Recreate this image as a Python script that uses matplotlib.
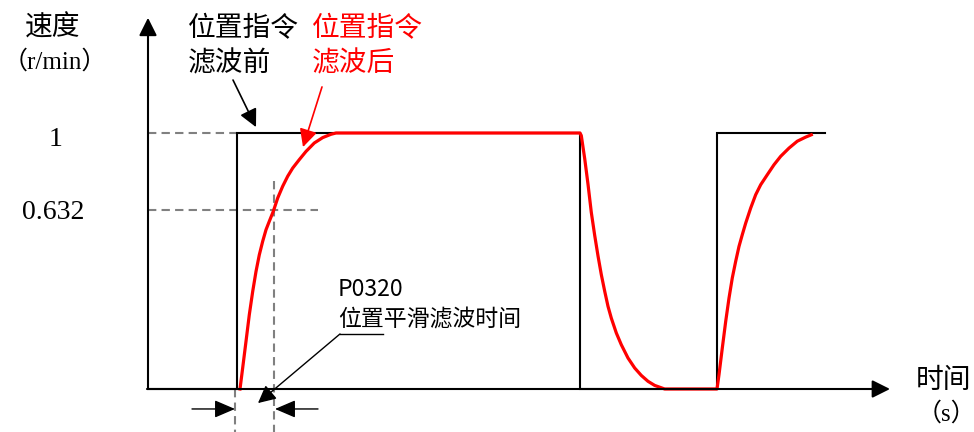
import matplotlib
matplotlib.use('Agg')
import matplotlib.pyplot as plt

plt.rcParams['font.family'] = ['Liberation Serif', 'Noto Sans CJK SC', 'DejaVu Sans']

# 指令（滤波前）：阶跃
step_t = [0, 89, 89, 432, 432, 569, 569, 677]
step_v = [0, 0, 1, 1, 0, 0, 1, 1]

# 滤波后（从图上读取的点）
rise1_t = [92, 94.7, 98, 101.3, 104.7, 108, 111.3, 114.7, 118, 121.3, 125.3, 129.7, 134.7,
           139.7, 144.7, 151.3, 158, 166.3, 174.7, 183, 188]
rise1_v = [0.0, 0.083, 0.186, 0.29, 0.381, 0.459, 0.524, 0.577, 0.622, 0.655, 0.694, 0.746,
           0.792, 0.831, 0.863, 0.896, 0.928, 0.961, 0.982, 0.995, 1.0]
fall_t = [432, 433.3, 436.7, 440, 443.3, 446.7, 450, 453.3, 456.7, 460, 463.3, 468.3, 473.3,
          480, 486.7, 493.3, 500, 506.7, 516.7, 526.7]
fall_v = [1.0, 0.99, 0.90, 0.80, 0.69, 0.60, 0.52, 0.447, 0.382, 0.323, 0.277, 0.219, 0.173,
          0.121, 0.082, 0.053, 0.030, 0.014, 0.0, 0.0]
rise2_t = [569, 571, 574.3, 577.7, 581, 584.3, 587.7, 591, 594.3, 597.7, 602.7, 607.7, 612.7,
           619.3, 626, 632.7, 641, 649.3, 657.7, 663.3]
rise2_v = [0.0, 0.056, 0.16, 0.264, 0.355, 0.434, 0.499, 0.557, 0.603, 0.648, 0.707, 0.759,
           0.798, 0.837, 0.876, 0.909, 0.941, 0.968, 0.984, 0.993]

red_t = rise1_t + fall_t + rise2_t
red_v = rise1_v + fall_v + rise2_v

tau_t = 126      # 0.632 对应时刻
tau_v = 0.70     # 图上 0.632 所在高度

fig = plt.figure(figsize=(9.74, 4.32), dpi=100)
ax = fig.add_axes([0, 0, 1, 1])
ax.set_xlim(-148, 826)
ax.set_ylim(-43 / 256, 389 / 256)
ax.axis('off')

gray = '#808080'
dash = dict(color=gray, lw=1.5, dashes=[4, 2.5])

# 虚线
ax.plot([0, step_t[1]], [1, 1], **dash)
ax.plot([0, 170], [tau_v, tau_v], **dash)
ax.plot([tau_t, tau_t], [0.8125, -0.17], **dash)
ax.plot([87, 87], [0, -0.17], **dash)

# 曲线
ax.plot(step_t, step_v, color='black', lw=1.5, solid_joinstyle='miter')
ax.plot(red_t, red_v, color='red', lw=2.3, solid_joinstyle='round')

# 坐标轴箭头
axis_arrow = dict(arrowstyle='-|>,head_length=0.6,head_width=0.3', color='black',
                  lw=1.5, mutation_scale=18, shrinkA=0, shrinkB=0)
ax.annotate('', xy=(0, 1.45), xytext=(0, 0), arrowprops=axis_arrow)
ax.annotate('', xy=(742, 0), xytext=(-1, 0), arrowprops=axis_arrow)

# 标签箭头
ax.annotate('', xy=(108, 1.023), xytext=(85, 1.207),
            arrowprops=dict(arrowstyle='-|>,head_length=0.6,head_width=0.3', color='black',
                            lw=1.2, mutation_scale=18, shrinkA=0, shrinkB=0))
ax.annotate('', xy=(155, 0.945), xytext=(174, 1.18),
            arrowprops=dict(arrowstyle='-|>,head_length=0.6,head_width=0.3', color='red',
                            lw=1.2, mutation_scale=18, shrinkA=0, shrinkB=0))

# 滤波时间标注
ax.plot([235, 192], [0.215, 0.215], color='black', lw=1.0)
ax.annotate('', xy=(110, -0.055), xytext=(192, 0.215),
            arrowprops=dict(arrowstyle='-|>,head_length=0.6,head_width=0.3', color='black',
                            lw=1.0, mutation_scale=18, shrinkA=0, shrinkB=0))
dim = dict(arrowstyle='-|>,head_length=0.7,head_width=0.3', color='black',
           lw=1.0, mutation_scale=18, shrinkA=0, shrinkB=0)
ax.annotate('', xy=(87, -0.078), xytext=(44, -0.078), arrowprops=dim)
ax.annotate('', xy=(127, -0.078), xytext=(170, -0.078), arrowprops=dim)

# 文字
fs = 20
ax.text(-95, 1.41, '速度', ha='center', va='center', fontsize=fs)
ax.text(-93, 1.277, '（r/min）', ha='center', va='center', fontsize=18)
ax.text(-92, 0.973, '1', ha='center', va='center', fontsize=fs)
ax.text(-95, 0.691, '0.632', ha='center', va='center', fontsize=fs)
ax.text(40, 1.406, '位置指令', ha='left', va='center', fontsize=fs)
ax.text(40, 1.27, '滤波前', ha='left', va='center', fontsize=fs)
ax.text(164, 1.406, '位置指令', ha='left', va='center', fontsize=fs, color='red')
ax.text(164, 1.27, '滤波后', ha='left', va='center', fontsize=fs, color='red')
ax.text(796, 0.03, '时间', ha='center', va='center', fontsize=fs)
ax.text(798, -0.095, '（s）', ha='center', va='center', fontsize=18)
ax.text(190, 0.39, 'P0320', ha='left', va='center', fontsize=16.5, family=['Noto Sans CJK SC'])
ax.text(190, 0.27, '位置平滑滤波时间', ha='left', va='center', fontsize=16.5,
        family=['Noto Sans CJK SC'])

fig.savefig('out.png', dpi=100)
